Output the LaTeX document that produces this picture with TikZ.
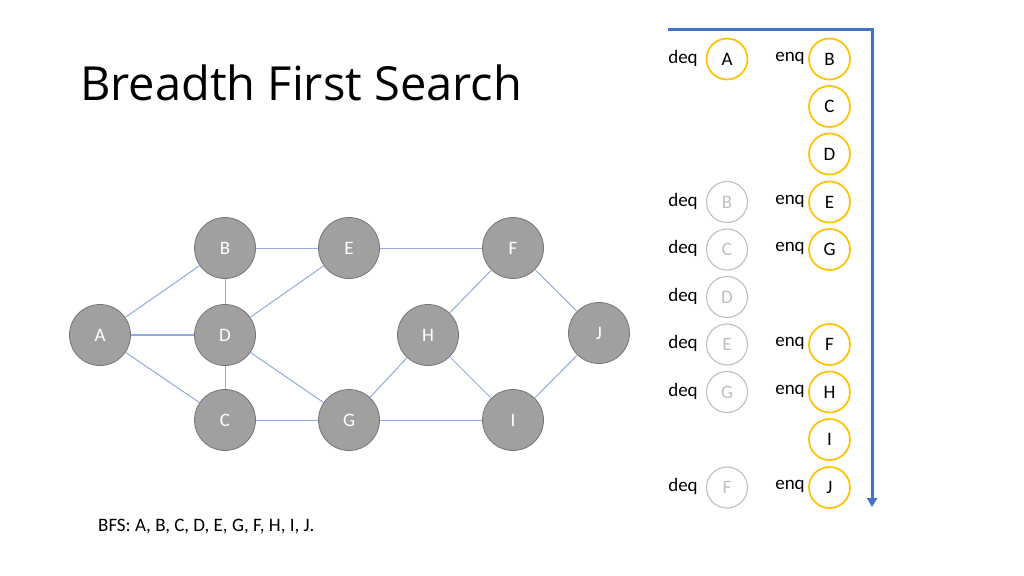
\documentclass[tikz,border=0pt]{standalone}
\usepackage{fontspec}
\setmainfont{Carlito}
\newfontfamily\titlefont{Open Sans}
\usetikzlibrary{arrows.meta}
\definecolor{nodegray}{HTML}{A0A0A0}
\definecolor{nodeline}{HTML}{767676}
\definecolor{edgeblue}{HTML}{8FAADC}
\definecolor{queueblue}{HTML}{4472C4}
\definecolor{enqgold}{HTML}{FFC000}
\definecolor{deqgray}{HTML}{BFBFBF}
\tikzset{
  vert/.style={circle,draw=nodeline,fill=nodegray,line width=0.8pt,minimum size=61pt,inner sep=0pt,text=white,font=\fontsize{19}{22}\selectfont},
  edge/.style={line width=1pt,color=edgeblue},
  enqnode/.style={circle,draw=enqgold,fill=white,line width=1.7pt,minimum size=41pt,inner sep=0pt,font=\fontsize{19}{22}\selectfont},
  deqnode/.style={circle,draw=deqgray,fill=white,line width=1.1pt,minimum size=41pt,inner sep=0pt,text=deqgray,font=\fontsize{19}{22}\selectfont},
  qlabel/.style={inner sep=0pt,font=\fontsize{19}{22}\selectfont}
}
\begin{document}
\begin{tikzpicture}[x=1pt,y=-1pt]
\useasboundingbox (0,0) rectangle (1024,575);
\node [anchor=base west,inner sep=0pt,font=\titlefont\fontsize{47}{56}\selectfont] (title) at (80,101) {Breadth First Search};

% graph
\node (A) [vert] at (100,335) {A};
\node (B) [vert] at (225,248) {B};
\node (D) [vert] at (225,335) {D};
\node (C) [vert] at (225,420) {C};
\node (E) [vert] at (349,248) {E};
\node (G) [vert] at (349,420) {G};
\node (F) [vert] at (513,248) {F};
\node (H) [vert] at (428,335) {H};
\node (I) [vert] at (513,420) {I};
\node (J) [vert] at (599,333) {J};

\draw [edge] (A)--(B);
\draw [edge,line width=1.5pt] (A)--(D);
\draw [edge] (A)--(C);
\draw [edge] (B)--(D);
\draw [edge] (D)--(C);
\draw [edge] (B)--(E);
\draw [edge] (D)--(E);
\draw [edge] (D)--(G);
\draw [edge] (C)--(G);
\draw [edge] (E)--(F);
\draw [edge] (F)--(H);
\draw [edge] (F)--(J);
\draw [edge] (H)--(G);
\draw [edge] (H)--(I);
\draw [edge] (G)--(I);
\draw [edge] (I)--(J);

\node (bfs) [anchor=base west,inner sep=0pt,font=\fontsize{19}{22}\selectfont] at (98,531) {BFS: A, B, C, D, E, G, F, H, I, J.};

% queue
\coordinate (qstart) at (668,30);
\coordinate (qcorner) at (872,30);
\coordinate (qend) at (872,507);
\draw [line width=3pt,color=queueblue,-{Triangle[width=10pt,length=9pt]}] (qstart)--(qcorner)--(qend);

\node (d1) [qlabel] at (683,58) {deq};
\node (dA) [enqnode] at (727,59) {A};
\node (e1) [qlabel] at (790,58) {enq};
\node (eB) [enqnode] at (829.5,59) {B};
\node (eC) [enqnode] at (829.5,106.5) {C};
\node (eD) [enqnode] at (829.5,154) {D};

\node (d2) [qlabel] at (683,201) {deq};
\node (dB) [deqnode] at (727,202) {B};
\node (e2) [qlabel] at (790,201) {enq};
\node (eE) [enqnode] at (829.5,202) {E};

\node (d3) [qlabel] at (683,248.5) {deq};
\node (dC) [deqnode] at (727,249.5) {C};
\node (e3) [qlabel] at (790,248.5) {enq};
\node (eG) [enqnode] at (829.5,249.5) {G};

\node (d4) [qlabel] at (683,296) {deq};
\node (dD) [deqnode] at (727,297) {D};

\node (d5) [qlabel] at (683,343.5) {deq};
\node (dE) [deqnode] at (727,344.5) {E};
\node (e5) [qlabel] at (790,343.5) {enq};
\node (eF) [enqnode] at (829.5,344.5) {F};

\node (d6) [qlabel] at (683,391) {deq};
\node (dG) [deqnode] at (727,392) {G};
\node (e6) [qlabel] at (790,391) {enq};
\node (eH) [enqnode] at (829.5,392) {H};
\node (eI) [enqnode] at (829.5,439.5) {I};

\node (d7) [qlabel] at (683,486.5) {deq};
\node (dF) [deqnode] at (727,487.5) {F};
\node (e7) [qlabel] at (790,486.5) {enq};
\node (eJ) [enqnode] at (829.5,487.5) {J};
\end{tikzpicture}
\end{document}
